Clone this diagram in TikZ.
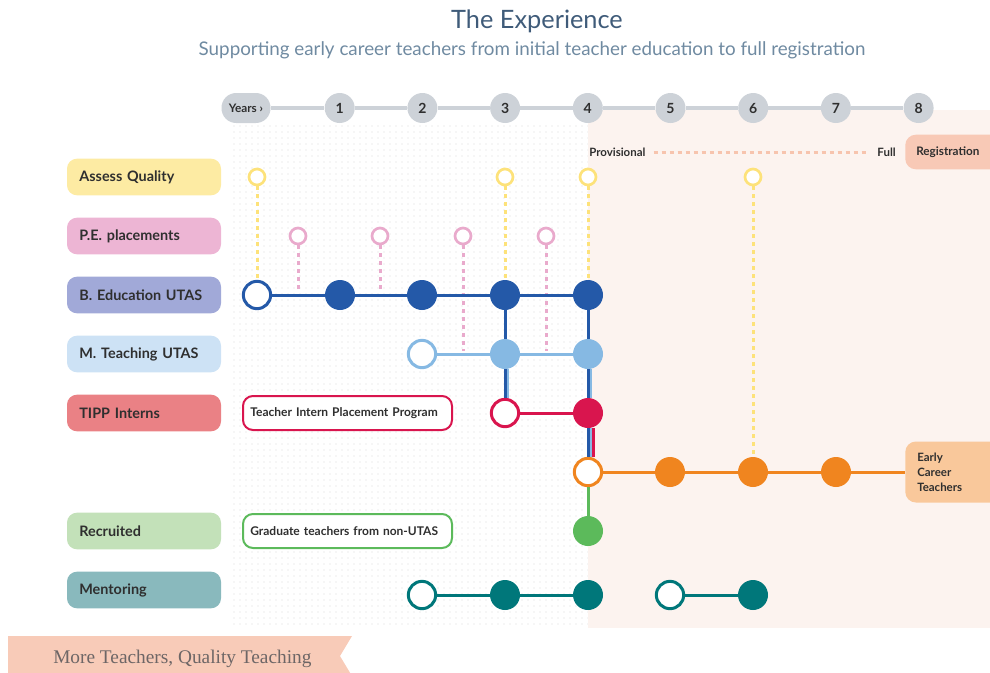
\documentclass[tikz,border=0pt]{standalone}
\usepackage{fontspec}
\setmainfont{Lato}
\newfontfamily\mottofont{Liberation Serif}
\usepackage{xcolor}
\usepackage{tikz}
\usetikzlibrary{patterns.meta}

\definecolor{ink}{HTML}{2F2F2F}
\definecolor{titleblue}{HTML}{3F5B79}
\definecolor{subblue}{HTML}{6F8AA1}
\definecolor{yeargray}{HTML}{CDD2D8}
\definecolor{dotgray}{HTML}{D9D9D9}
\definecolor{peachbg}{HTML}{FCF3EF}
\definecolor{aqfill}{HTML}{FDEBA3}
\definecolor{pefill}{HTML}{EDB5D4}
\definecolor{bedfill}{HTML}{A1A9D8}
\definecolor{mtfill}{HTML}{CDE2F5}
\definecolor{tippfill}{HTML}{EA8185}
\definecolor{recfill}{HTML}{C3E1B9}
\definecolor{menfill}{HTML}{89B9BD}
\definecolor{aqyellow}{HTML}{FDE27A}
\definecolor{pepink}{HTML}{E9AACC}
\definecolor{bedblue}{HTML}{2459A8}
\definecolor{mtblue}{HTML}{86B9E3}
\definecolor{tippred}{HTML}{D9154E}
\definecolor{ectorange}{HTML}{F0851F}
\definecolor{recgreen}{HTML}{5CBA5B}
\definecolor{menteal}{HTML}{00777A}
\definecolor{ectfill}{HTML}{F9C89B}
\definecolor{regfill}{HTML}{F8C9B6}
\definecolor{regdash}{HTML}{F7C4AE}
\definecolor{mottofill}{HTML}{F8CBB8}
\definecolor{mottogray}{HTML}{6D6666}

\begin{document}
\begin{tikzpicture}[
  x=0.75pt, y=-0.75pt,
  rowtag/.style={fill=#1, rounded corners=7.5pt, text width=97pt, inner xsep=9.25pt, minimum height=27.5pt, align=left, text=ink, font=\bfseries\fontsize{10.8}{12}\selectfont},
  yearball/.style={circle, fill=yeargray, minimum size=22.5pt, inner sep=0pt, text=ink, font=\bfseries\fontsize{10.5}{12}\selectfont},
  openstop/.style={circle, draw=#1, fill=white, line width=2.25pt, minimum size=20.5pt, inner sep=0pt},
  fullstop/.style={circle, fill=#1, minimum size=22.5pt, inner sep=0pt},
  ringstop/.style={circle, draw=#1, fill=white, line width=2pt, minimum size=12pt, inner sep=0pt},
  trackline/.style={draw=#1, line width=2.25pt},
  pinline/.style={draw=#1, line width=2.25pt, dash pattern=on 3pt off 3pt},
  notebox/.style={draw=#1, fill=white, rounded corners=7.5pt, line width=1.5pt, anchor=west, text width=145.75pt, inner xsep=5.5pt, minimum height=25.5pt, align=left, text=ink, font=\bfseries\fontsize{9}{10}\selectfont},
  regtext/.style={inner sep=0pt, text=ink, font=\bfseries\fontsize{8.6}{10}\selectfont}
]
\useasboundingbox (0,0) rectangle (990,672);

% backdrop: dotted study years, peach registration years
\fill[pattern={Dots[distance=4.5pt, radius=0.5pt]}, pattern color=dotgray] (233,123) rectangle (588,624);
\fill[peachbg] (588,110) rectangle (990,628);

\node[font=\fontsize{19}{21}\selectfont, text=titleblue] (title) at (537,21) {The Experience};
\node[font=\fontsize{14.1}{16}\selectfont, text=subblue] (subtitle) at (532,50) {Supporting early career teachers from initial teacher education to full registration};

% years
\node[fill=yeargray, rounded corners=11pt, minimum width=36.75pt, minimum height=22.5pt, inner sep=0pt, text=ink, font=\bfseries\fontsize{8.8}{10}\selectfont] (yrs) at (246,108) {Years ›};
\foreach \n in {1,...,8}
  \node[yearball] (y\n) at ({257+82.7*\n},108) {\n};
\draw[yeargray, line width=3pt] (yrs) -- (y1);
\foreach \a/\b in {1/2,2/3,3/4,4/5,5/6,6/7,7/8}
  \draw[yeargray, line width=3pt] (y\a) -- (y\b);

% registration
\node[regtext, anchor=west] (prov) at (589,152) {Provisional};
\node[regtext, anchor=east] (full) at (896,152) {Full};
\node[fill=regfill, rounded corners=8pt, anchor=west, minimum height=26pt, inner xsep=8.25pt, text width=62pt, align=left, text=ink, font=\bfseries\fontsize{8.8}{10}\selectfont] (reg) at (905,152) {Registration};
\draw[regdash, line width=2.25pt, dash pattern=on 3pt off 3pt, shorten <=6pt, shorten >=6pt] (prov) -- (full);

% row tags
\node[rowtag=aqfill] (aq) at (144,177) {Assess Quality};
\node[rowtag=pefill] (pe) at (144,236) {P.E. placements};
\node[rowtag=bedfill] (bed) at (144,295) {B. Education UTAS};
\node[rowtag=mtfill] (mt) at (144,354) {M. Teaching UTAS};
\node[rowtag=tippfill] (tipp) at (144,413) {TIPP Interns};
\node[rowtag=recfill] (rec) at (144,531) {Recruited};
\node[rowtag=menfill] (men) at (144,590) {Mentoring};

\node[notebox=tippred] (tippnote) at (242,413) {Teacher Intern Placement Program};
\node[notebox=recgreen] (recnote) at (242,531) {Graduate teachers from non-UTAS};
\node[fill=ectfill, rounded corners=8pt, anchor=west, minimum height=45.75pt, inner xsep=9pt, text width=62pt, align=left, text=ink, font=\bfseries\fontsize{8.6}{11.2}\selectfont] (ect) at (905,472) {Early\\Career\\Teachers};

% stops
\node[ringstop=aqyellow] (a0) at (257,177) {};
\node[ringstop=aqyellow] (a3) at (505,177) {};
\node[ringstop=aqyellow] (a4) at (588,177) {};
\node[ringstop=aqyellow] (a6) at (753,177) {};

\node[ringstop=pepink] (p1) at (298,236) {};
\node[ringstop=pepink] (p2) at (380,236) {};
\node[ringstop=pepink] (p3) at (463,236) {};
\node[ringstop=pepink] (p4) at (546,236) {};
\coordinate (p1end) at (298,292);
\coordinate (p2end) at (380,292);
\coordinate (p3end) at (463,351);
\coordinate (p4end) at (546,351);

\node[openstop=bedblue] (b0) at (257,295) {};
\node[fullstop=bedblue] (b1) at (340,295) {};
\node[fullstop=bedblue] (b2) at (422,295) {};
\node[fullstop=bedblue] (b3) at (505,295) {};
\node[fullstop=bedblue] (b4) at (588,295) {};

\node[openstop=mtblue] (m2) at (422,354) {};
\node[fullstop=mtblue] (m3) at (505,354) {};
\node[fullstop=mtblue] (m4) at (588,354) {};

\node[openstop=tippred] (t3) at (505,413) {};
\node[fullstop=tippred] (t4) at (588,413) {};

\node[openstop=ectorange] (e4) at (588,472) {};
\node[fullstop=ectorange] (e5) at (670,472) {};
\node[fullstop=ectorange] (e6) at (753,472) {};
\node[fullstop=ectorange] (e7) at (836,472) {};

\node[fullstop=recgreen] (r4) at (588,531) {};

\node[openstop=menteal] (n2) at (422,595) {};
\node[fullstop=menteal] (n3) at (505,595) {};
\node[fullstop=menteal] (n4) at (588,595) {};
\node[openstop=menteal] (n5) at (670,595) {};
\node[fullstop=menteal] (n6) at (753,595) {};

% dashed pins
\draw[pinline=aqyellow] (a0) -- (b0);
\draw[pinline=aqyellow] (a3) -- (b3);
\draw[pinline=aqyellow] (a4) -- (b4);
\draw[pinline=aqyellow] (a6) -- (e6);
\draw[pinline=pepink] (p1) -- (p1end);
\draw[pinline=pepink] (p2) -- (p2end);
\draw[pinline=pepink] (p3) -- (p3end);
\draw[pinline=pepink] (p4) -- (p4end);

% tracks
\draw[trackline=bedblue] (b0) -- (b1);
\draw[trackline=bedblue] (b1) -- (b2);
\draw[trackline=bedblue] (b2) -- (b3);
\draw[trackline=bedblue] (b3) -- (b4);
\draw[trackline=mtblue] (m2) -- (m3);
\draw[trackline=mtblue] (m3) -- (m4);
\draw[trackline=tippred] (t3) -- (t4);
\draw[trackline=ectorange] (e4) -- (e5);
\draw[trackline=ectorange] (e5) -- (e6);
\draw[trackline=ectorange] (e6) -- (e7);
\draw[trackline=ectorange] (e7) -- (ect);
\draw[trackline=menteal] (n2) -- (n3);
\draw[trackline=menteal] (n3) -- (n4);
\draw[trackline=menteal] (n5) -- (n6);

% merging lines
\draw[trackline=bedblue] (b3) -- (m3);
\draw[trackline=mtblue, transform canvas={xshift=2pt}] (m3) -- (t3);
\draw[trackline=bedblue] (m3) -- (t3);
\draw[trackline=bedblue] (b4) -- (m4);
\draw[trackline=mtblue, transform canvas={xshift=2pt}] (m4) -- (t4);
\draw[trackline=bedblue] (m4) -- (t4);
\draw[trackline=tippred, transform canvas={xshift=4pt}] (t4) -- (e4);
\draw[trackline=mtblue, transform canvas={xshift=2pt}] (t4) -- (e4);
\draw[trackline=bedblue] (t4) -- (e4);
\draw[trackline=recgreen] (e4) -- (r4);

% motto ribbon
\fill[mottofill] (8,636) -- (352,636) -- (340,656) -- (352,676) -- (8,676) -- cycle;
\node[anchor=base west, inner sep=0pt, text=mottogray, font=\mottofont\fontsize{14.5}{16}\selectfont] (motto) at (53,663) {More Teachers, Quality Teaching};
\end{tikzpicture}
\end{document}
